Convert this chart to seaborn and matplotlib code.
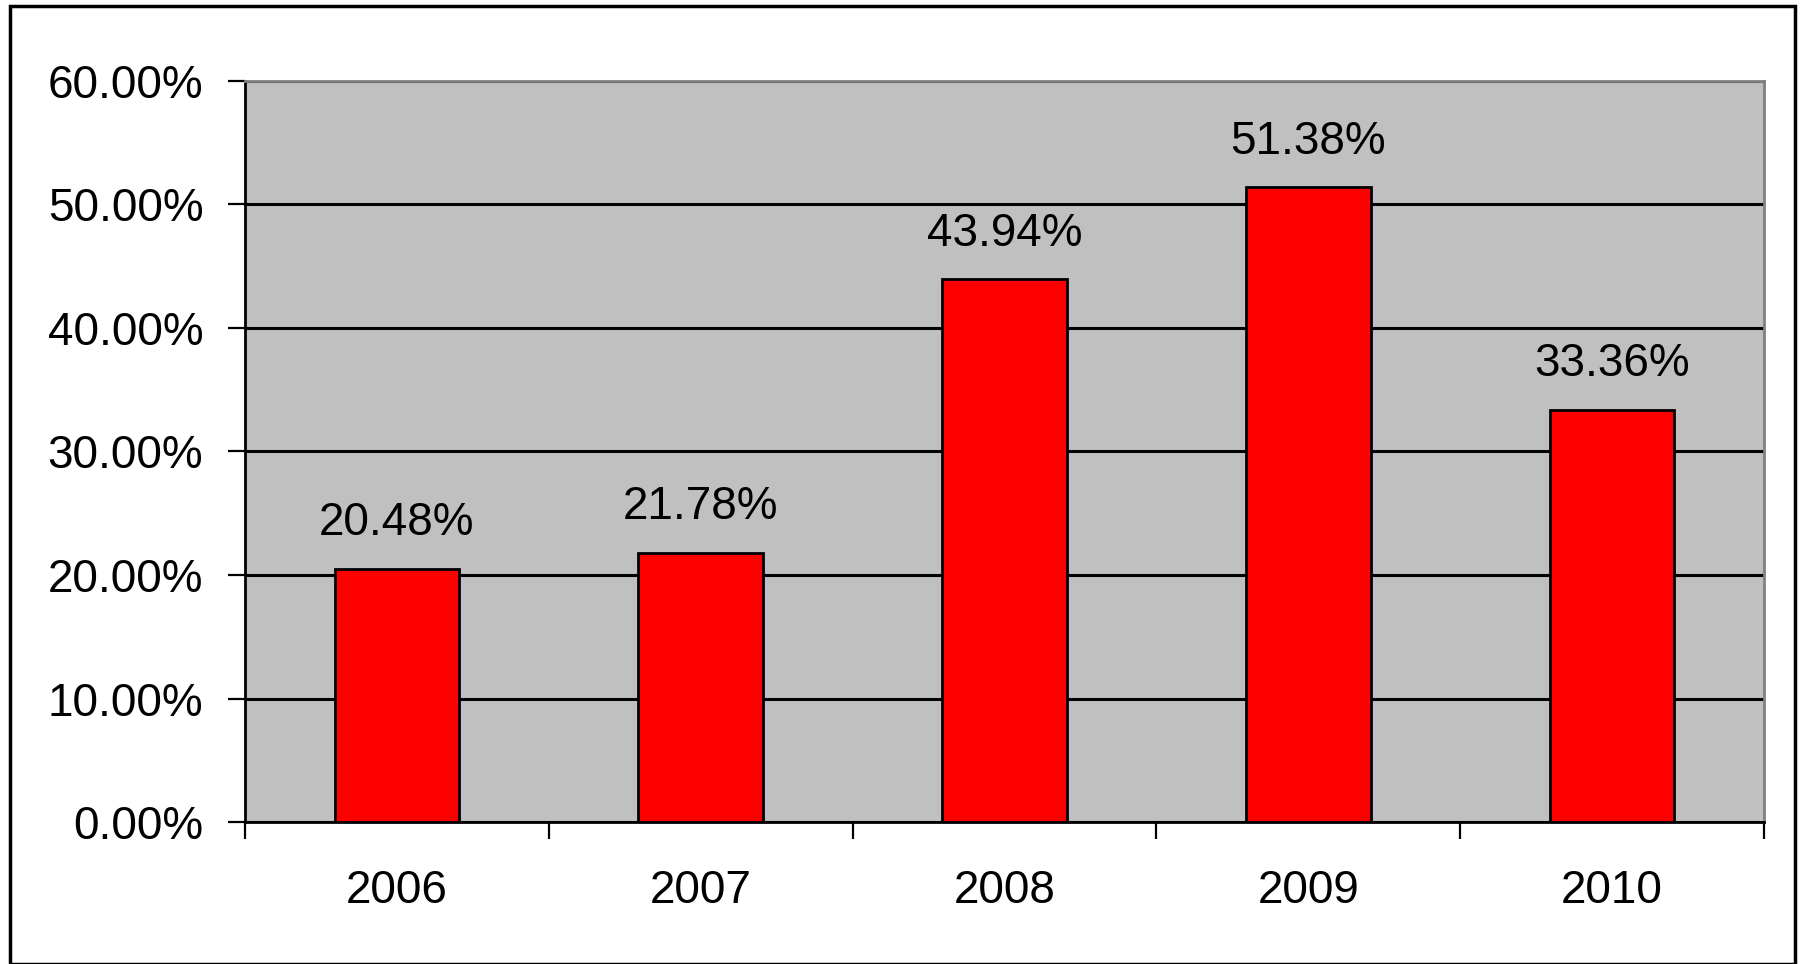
import matplotlib
matplotlib.use("Agg")
import matplotlib.pyplot as plt
import seaborn as sns
import pandas as pd
from matplotlib.ticker import PercentFormatter, MultipleLocator
from matplotlib.patches import Rectangle

years = ["2006", "2007", "2008", "2009", "2010"]
values = [0.2048, 0.2178, 0.4394, 0.5138, 0.3336]
labels = ["20.48%", "21.78%", "43.94%", "51.38%", "33.36%"]

sns.set_theme(style="white")
plt.rcParams['font.family'] = ['Liberation Sans', 'DejaVu Sans']
plt.rcParams['text.color'] = 'black'
plt.rcParams['xtick.color'] = 'black'
plt.rcParams['ytick.color'] = 'black'
plt.rcParams['xtick.labelcolor'] = 'black'
plt.rcParams['ytick.labelcolor'] = 'black'

df = pd.DataFrame({"year": years, "value": values})

fig = plt.figure(figsize=(18, 9.64), dpi=100)
ax = fig.add_axes([245/1800, 1 - 822/964, (1764-245)/1800, (822-81)/964])
ax.set_facecolor("#C0C0C0")

sns.barplot(data=df, x="year", y="value", color="#FF0000", edgecolor="black",
            linewidth=2, width=0.41, saturation=1, ax=ax, zorder=3)

ax.set_ylim(0, 0.6)
ax.yaxis.set_major_locator(MultipleLocator(0.1))
ax.yaxis.set_major_formatter(PercentFormatter(1.0, decimals=2))
ax.grid(axis="y", color="black", linewidth=2.2, zorder=1)
ax.set_axisbelow(True)
ax.set_xlabel("")
ax.set_ylabel("")

ax.set_xlim(-0.5, 4.5)
ax.set_xticks([i + 0.5 for i in range(-1, 5)], minor=False)
ax.set_xticklabels([])
ax.set_xticks(range(5), minor=True)
ax.set_xticklabels(years, minor=True)
ax.tick_params(axis="x", which="major", length=12, width=1.6, color="black", direction="out", bottom=True)
ax.tick_params(axis="x", which="minor", length=0, pad=34, labelsize=33, labelcolor="black", bottom=True)
ax.tick_params(axis="y", length=12, width=1.6, color="black", direction="out", pad=18, labelsize=33,
               labelcolor="black", left=True)

for side in ["left", "bottom"]:
    ax.spines[side].set_color("black")
    ax.spines[side].set_linewidth(2)
for side in ["top", "right"]:
    ax.spines[side].set_color("#808080")
    ax.spines[side].set_linewidth(2)

ax.bar_label(ax.containers[0], labels=labels, padding=17, fontsize=33, color="black")

fig.patches.append(Rectangle((10/1800, 0.0005), (1795-10)/1800, (964-5.5)/964 - 0.0005,
                             transform=fig.transFigure, fill=False, edgecolor="black",
                             linewidth=2.5, zorder=10))

fig.savefig("out.png", dpi=100, facecolor="white")
